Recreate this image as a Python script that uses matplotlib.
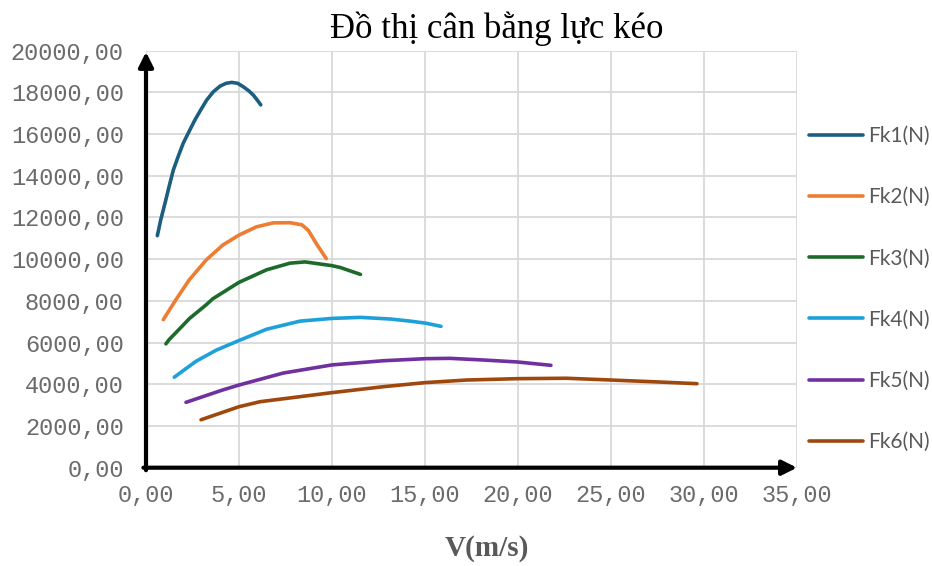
import matplotlib
matplotlib.use("Agg")
import matplotlib.pyplot as plt
from matplotlib.ticker import FuncFormatter

# values (V in m/s, Fk in N)
v1 = [0.61, 0.79, 1.02, 1.24, 1.47, 1.74, 2.00, 2.33, 2.63, 2.94, 3.26,
      3.62, 3.98, 4.30, 4.61, 4.93, 5.23, 5.52, 5.77, 5.98, 6.17]
fk1 = [11130, 11880, 12680, 13480, 14280, 14950, 15560, 16150, 16680, 17155, 17630,
       18030, 18300, 18435, 18480, 18435, 18270, 18080, 17870, 17635, 17400]

v2 = [0.93, 1.61, 2.33, 3.24, 4.13, 5.00, 5.94, 6.84, 7.74, 8.38, 8.73, 9.19, 9.69]
fk2 = [7100, 8060, 9015, 9967, 10680, 11157, 11553, 11743, 11750, 11650, 11380, 10700, 10030]

v3 = [1.07, 1.25, 1.97, 2.33, 3.24, 3.59, 5.00, 6.48, 7.74, 8.55, 10.00, 10.45, 11.53]
fk3 = [5940, 6150, 6812, 7150, 7816, 8100, 8890, 9490, 9810, 9870, 9690, 9600, 9270]

v4 = [1.52, 2.69, 3.78, 5.00, 6.48, 8.28, 10.00, 11.53, 13.15, 14.30, 15.05, 15.86]
fk4 = [4340, 5105, 5640, 6100, 6640, 7030, 7160, 7210, 7130, 7020, 6930, 6780]

v5 = [2.15, 4.13, 5.00, 7.38, 10.00, 12.76, 15.05, 16.34, 18.14, 19.98, 21.77]
fk5 = [3135, 3730, 3965, 4540, 4930, 5130, 5230, 5245, 5165, 5070, 4910]

v6 = [2.96, 5.00, 6.13, 10.00, 12.76, 15.00, 17.24, 19.98, 22.60, 25.00, 27.60, 29.62]
fk6 = [2300, 2925, 3165, 3600, 3885, 4080, 4205, 4270, 4290, 4205, 4110, 4030]

labels = ["Fk1(N)", "Fk2(N)", "Fk3(N)", "Fk4(N)", "Fk5(N)", "Fk6(N)"]
colors = ["#1b5e80", "#ed7d31", "#1d6b2b", "#1ea1d9", "#7030a0", "#9e480e"]

x_ticks = [0, 5, 10, 15, 20, 25, 30, 35]
y_ticks = [0, 2000, 4000, 6000, 8000, 10000, 12000, 14000, 16000, 18000, 20000]

W, H = 932, 566
fig = plt.figure(figsize=(W / 100, H / 100), dpi=100)
ax = fig.add_axes([146 / W, 1 - 467.7 / H, (797 - 146) / W, (467.7 - 50.7) / H])

series = [(v1, fk1), (v2, fk2), (v3, fk3), (v4, fk4), (v5, fk5), (v6, fk6)]
handles = []
for (v, f), lab, c in zip(series, labels, colors):
    ln, = ax.plot(v, f, color=c, lw=2.6, label=lab,
                  solid_capstyle="round", solid_joinstyle="round")
    handles.append(ln)

ax.set_xlim(0, 35)
ax.set_ylim(0, 20000)
ax.set_xticks(x_ticks)
ax.set_yticks(y_ticks)
comma = FuncFormatter(lambda val, pos: f"{val:.2f}".replace(".", ","))
ax.xaxis.set_major_formatter(comma)
ax.yaxis.set_major_formatter(comma)
ax.tick_params(length=0, labelsize=17, labelcolor="#6b6b6b")
ax.tick_params(axis="y", pad=16)
ax.tick_params(axis="x", pad=12)
for t in ax.get_xticklabels() + ax.get_yticklabels():
    t.set_family("Liberation Mono")

ax.grid(color="#d9d9d9", lw=1.3)
ax.set_axisbelow(True)
for s in ax.spines.values():
    s.set_visible(False)

# black arrow axes
arrow = dict(arrowstyle="-|>", lw=3, color="black", mutation_scale=22,
             shrinkA=0, shrinkB=0)
ax.annotate("", xy=(0, 0.997), xytext=(0, -0.006), xycoords="axes fraction",
            arrowprops=arrow, annotation_clip=False)
ax.annotate("", xy=(1.0, 0), xytext=(-0.004, 0), xycoords="axes fraction",
            arrowprops=arrow, annotation_clip=False)

fig.text(497 / W, 1 - 29 / H, "Đồ thị cân bằng lực kéo", ha="center", va="center",
         fontsize=25, family="Liberation Serif", color="black")
fig.text(487 / W, 1 - 548 / H, "V(m/s)", ha="center", va="center",
         fontsize=21, weight="bold", family="Liberation Serif", color="#595959")

leg = fig.legend(handles=handles, loc="upper left", bbox_to_anchor=(809 / W, 1 - 126 / H),
                 frameon=False, borderpad=0, borderaxespad=0, handlelength=2.6,
                 handletextpad=0.25, labelspacing=1.98, prop={"family": "Lato", "size": 15})
for t in leg.get_texts():
    t.set_color("#595959")

fig.savefig("out.png", dpi=100)
